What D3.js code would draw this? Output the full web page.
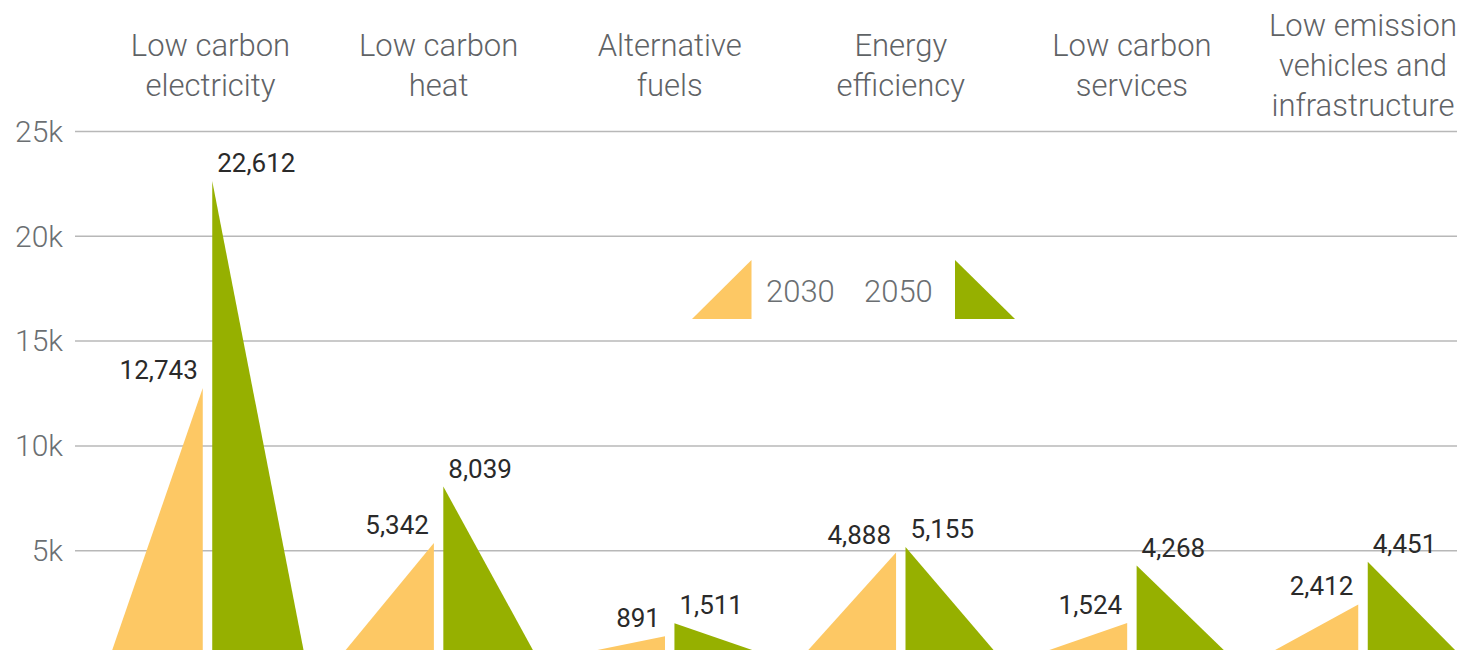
<!DOCTYPE html>
<html>
<head>
<meta charset="utf-8">
<script src="https://cdn.jsdelivr.net/npm/d3@7"></script>
<style>
  html, body { margin: 0; padding: 0; background: #fff; overflow: hidden; }
  svg { display: block; }
</style>
</head>
<body>
<svg id="chart" width="1482" height="650"></svg>
<script>
// Investment by sector (in £m), 2030 vs 2050
const categories = [
  ["Low carbon", "electricity"],
  ["Low carbon", "heat"],
  ["Alternative", "fuels"],
  ["Energy", "efficiency"],
  ["Low carbon", "services"],
  ["Low emission", "vehicles and", "infrastructure"]
];
const seriesNames = ["2030", "2050"];
const values2030 = [12743, 5342, 891, 4888, 1524, 2412];
const values2050 = [22612, 8039, 1511, 5155, 4268, 4451];
const tickValues = [5000, 10000, 15000, 20000, 25000];
const tickLabels = ["5k", "10k", "15k", "20k", "25k"];

const colors = { "2030": "#FDC864", "2050": "#96B000" };
const labelFont = "Roboto, 'Liberation Sans', sans-serif";

const svg = d3.select("#chart");
const catKeys = categories.map(c => c.join(" "));

const x0 = d3.scalePoint().domain(catKeys).range([207.5, 1363]);
const x1 = d3.scaleBand().domain(seriesNames).range([-97, 97]).paddingInner(0.093);
const y = d3.scaleLinear().domain([0, 25000]).range([655, 131]);

// gridlines and tick labels
const yAxis = d3.axisLeft(y).tickValues(tickValues)
  .tickSize(-(1457 - 75)).tickPadding(12)
  .tickFormat((d, i) => tickLabels[i]);
const gy = svg.append("g").attr("transform", "translate(75,0)").call(yAxis);
gy.select(".domain").remove();
gy.selectAll(".tick line").attr("stroke", "#b8b8b8").attr("stroke-width", 1.5);
gy.selectAll(".tick text")
  .attr("fill", "#6b6f72")
  .attr("font-family", labelFont)
  .attr("font-weight", 300)
  .attr("font-size", 30)
  .attr("dy", "0.34em");

// category headers
const headers = svg.append("g");
categories.forEach((lines, i) => {
  const n = lines.length;
  const firstBaseline = n === 3 ? 36 : 56;
  const cx = x0(catKeys[i]) + (i === 0 ? 3 : 0);
  const t = headers.append("text")
    .attr("x", cx)
    .attr("text-anchor", "middle")
    .attr("fill", "#5f6366")
    .attr("font-family", labelFont)
    .attr("font-weight", 300)
    .attr("font-size", 31);
  lines.forEach((ln, j) => {
    t.append("tspan").attr("x", cx).attr("y", firstBaseline + j * 40).text(ln);
  });
});

// triangles
const rows = catKeys.map((k, i) => ({ key: k, v2030: values2030[i], v2050: values2050[i] }));
const base = y(0);

const groups = svg.append("g").selectAll("g").data(rows).join("g")
  .attr("transform", d => `translate(${x0(d.key)},0)`);

// 2030: right-angled, vertical edge on the right
groups.append("path")
  .attr("fill", colors["2030"])
  .attr("d", d => {
    const l = x1("2030"), r = l + x1.bandwidth();
    return `M${l},${base}L${r},${y(d.v2030)}L${r},${base}Z`;
  });
// 2050: right-angled, vertical edge on the left
groups.append("path")
  .attr("fill", colors["2050"])
  .attr("d", d => {
    const l = x1("2050"), r = l + x1.bandwidth();
    return `M${l},${base}L${l},${y(d.v2050)}L${r},${base}Z`;
  });

// value labels
const fmt = d3.format(",");
groups.append("text")
  .attr("x", x1("2030") + x1.bandwidth() - 5)
  .attr("y", d => y(d.v2030) - 9)
  .attr("text-anchor", "end")
  .attr("fill", "#2a2a2a")
  .attr("font-family", labelFont)
  .attr("font-size", 26)
  .text(d => fmt(d.v2030));
groups.append("text")
  .attr("x", x1("2050") + 5)
  .attr("y", d => y(d.v2050) - 9)
  .attr("text-anchor", "start")
  .attr("fill", "#2a2a2a")
  .attr("font-family", labelFont)
  .attr("font-size", 26)
  .text(d => fmt(d.v2050));

// legend
const legend = svg.append("g");
legend.append("path").attr("fill", colors["2030"])
  .attr("d", "M692,319L751.5,260L751.5,319Z");
legend.append("text").attr("x", 766).attr("y", 302)
  .attr("fill", "#6b6f72").attr("font-family", labelFont)
  .attr("font-weight", 300).attr("font-size", 31).text(seriesNames[0]);
legend.append("text").attr("x", 864).attr("y", 302)
  .attr("fill", "#6b6f72").attr("font-family", labelFont)
  .attr("font-weight", 300).attr("font-size", 31).text(seriesNames[1]);
legend.append("path").attr("fill", colors["2050"])
  .attr("d", "M955,260L955,319L1015,319Z");
</script>
</body>
</html>
